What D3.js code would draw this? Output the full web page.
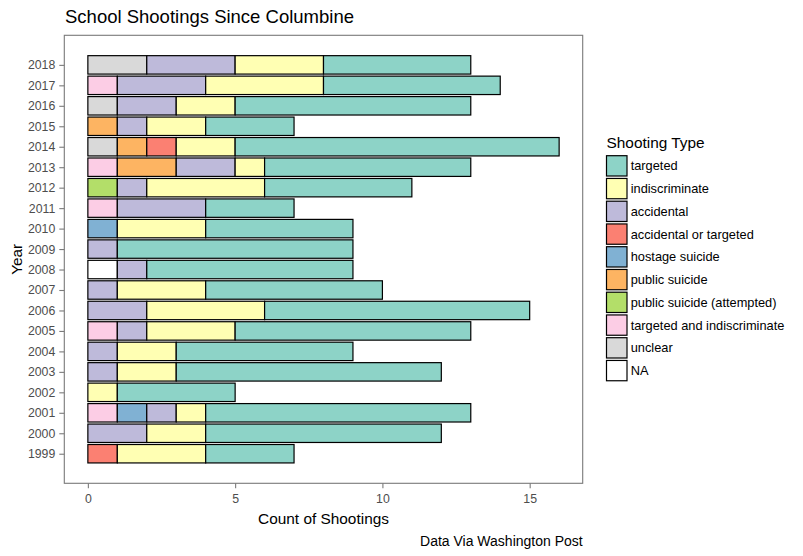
<!DOCTYPE html>
<html>
<head>
<meta charset="utf-8">
<script src="https://cdn.jsdelivr.net/npm/d3@7"></script>
<style>
  body { margin: 0; background: #fff; }
  text { font-family: "Liberation Sans", Arial, sans-serif; }
</style>
</head>
<body>
<svg id="chart" width="803" height="556"></svg>
<script>
// counts per year
var years = [1999, 2000, 2001, 2002, 2003, 2004, 2005, 2006, 2007, 2008,
             2009, 2010, 2011, 2012, 2013, 2014, 2015, 2016, 2017, 2018];

var targeted          = [3, 8, 9, 4, 9, 6, 8, 9, 6, 7, 8, 5, 3, 5, 7, 11, 3, 8, 6, 5];
var indiscriminate    = [3, 2, 1, 1, 2, 2, 3, 4, 3, 0, 0, 3, 0, 4, 1, 2, 2, 2, 4, 3];
var accidental        = [0, 2, 1, 0, 1, 1, 1, 2, 1, 1, 1, 0, 3, 1, 2, 0, 1, 2, 3, 3];
var accOrTargeted     = [1, 0, 0, 0, 0, 0, 0, 0, 0, 0, 0, 0, 0, 0, 0, 1, 0, 0, 0, 0];
var hostageSuicide    = [0, 0, 1, 0, 0, 0, 0, 0, 0, 0, 0, 1, 0, 0, 0, 0, 0, 0, 0, 0];
var publicSuicide     = [0, 0, 0, 0, 0, 0, 0, 0, 0, 0, 0, 0, 0, 0, 2, 1, 1, 0, 0, 0];
var publicSuicideAtt  = [0, 0, 0, 0, 0, 0, 0, 0, 0, 0, 0, 0, 0, 1, 0, 0, 0, 0, 0, 0];
var targetedAndIndisc = [0, 0, 1, 0, 0, 0, 1, 0, 0, 0, 0, 0, 1, 0, 1, 0, 0, 0, 1, 0];
var unclear           = [0, 0, 0, 0, 0, 0, 0, 0, 0, 0, 0, 0, 0, 0, 0, 1, 0, 1, 0, 2];
var naType            = [0, 0, 0, 0, 0, 0, 0, 0, 0, 1, 0, 0, 0, 0, 0, 0, 0, 0, 0, 0];

var types = ["targeted", "indiscriminate", "accidental", "accidental or targeted",
             "hostage suicide", "public suicide", "public suicide (attempted)",
             "targeted and indiscriminate", "unclear", "NA"];
var series = [targeted, indiscriminate, accidental, accOrTargeted, hostageSuicide,
              publicSuicide, publicSuicideAtt, targetedAndIndisc, unclear, naType];
var colors = ["#8DD3C7", "#FFFFB3", "#BEBADA", "#FB8072", "#80B1D3",
              "#FDB462", "#B3DE69", "#FCCDE5", "#D9D9D9", "#FFFFFF"];
var xTicks = [0, 5, 10, 15];

var svg = d3.select("#chart");

var panel = { left: 64.3, right: 582.7, top: 35.3, bottom: 483.3 };

// rows for d3.stack
var rows = years.map(function(yr, i) {
  var r = { year: yr };
  types.forEach(function(t, j) { r[t] = series[j][i]; });
  return r;
});

// ggplot stacks the last level at the baseline
var stackKeys = types.slice().reverse();
var stacked = d3.stack().keys(stackKeys)(rows);

var color = d3.scaleOrdinal().domain(types).range(colors);

var maxTotal = d3.max(stacked[stacked.length - 1], function(d) { return d[1]; });
var xPad = maxTotal * 0.05;
var x = d3.scaleLinear()
          .domain([0 - xPad, maxTotal + xPad])
          .range([panel.left, panel.right]);

var yLo = years[0] - 0.45, yHi = years[years.length - 1] + 0.45;
var yPad = (yHi - yLo) * 0.05;
var y = d3.scaleLinear()
          .domain([yLo - yPad, yHi + yPad])
          .range([panel.bottom, panel.top]);

// bars
var layers = svg.append("g").selectAll("g")
                .data(stacked)
                .enter()
                .append("g")
                .attr("fill", function(d) { return color(d.key); });

layers.selectAll("rect")
      .data(function(d) { return d.filter(function(s) { return s[1] - s[0] > 0; }); })
      .enter()
      .append("rect")
      .attr("x", function(d) { return x(d[0]); })
      .attr("width", function(d) { return x(d[1]) - x(d[0]); })
      .attr("y", function(d) { return y(d.data.year + 0.45); })
      .attr("height", function(d) { return y(d.data.year - 0.45) - y(d.data.year + 0.45); })
      .attr("stroke", "#000")
      .attr("stroke-width", 1.2);

// panel border
svg.append("rect")
   .attr("x", panel.left).attr("y", panel.top)
   .attr("width", panel.right - panel.left)
   .attr("height", panel.bottom - panel.top)
   .attr("fill", "none")
   .attr("stroke", "#7a7a7a")
   .attr("stroke-width", 1.1);

// axes
var yAxis = d3.axisLeft(y)
              .tickValues(years)
              .tickFormat(d3.format("d"))
              .tickSize(5)
              .tickPadding(4);

var xAxis = d3.axisBottom(x)
              .tickValues(xTicks)
              .tickSize(5)
              .tickPadding(6);

var gy = svg.append("g").attr("transform", "translate(" + panel.left + ",0)").call(yAxis);
var gx = svg.append("g").attr("transform", "translate(0," + panel.bottom + ")").call(xAxis);

[gx, gy].forEach(function(g) {
  g.select(".domain").remove();
  g.selectAll(".tick line").attr("stroke", "#7a7a7a").attr("stroke-width", 1.1);
  g.selectAll(".tick text")
   .attr("fill", "#4D4D4D")
   .style("font-size", "12.3px")
   .style("font-family", "'Liberation Sans', Arial, sans-serif");
});

// titles
svg.append("text")
   .attr("x", 65).attr("y", 23.3)
   .style("font-size", "18.5px")
   .attr("fill", "#000")
   .text("School Shootings Since Columbine");

svg.append("text")
   .attr("x", (panel.left + panel.right) / 2).attr("y", 524)
   .attr("text-anchor", "middle")
   .style("font-size", "15.4px")
   .text("Count of Shootings");

svg.append("text")
   .attr("transform", "translate(21.5," + (panel.top + panel.bottom) / 2 + ") rotate(-90)")
   .attr("text-anchor", "middle")
   .style("font-size", "15.4px")
   .text("Year");

svg.append("text")
   .attr("x", panel.right).attr("y", 546)
   .attr("text-anchor", "end")
   .style("font-size", "14px")
   .text("Data Via Washington Post");

// legend
var legend = svg.append("g").attr("transform", "translate(606.5,0)");

legend.append("text")
      .attr("x", 0).attr("y", 148.3)
      .style("font-size", "15.4px")
      .text("Shooting Type");

var keyStep = 22.75, keyTop = 155.7, keyW = 20.5, keyH = 20.3;

var items = legend.selectAll(".item")
                  .data(types)
                  .enter()
                  .append("g")
                  .attr("class", "item")
                  .attr("transform", function(d, i) { return "translate(0," + (keyTop + i * keyStep) + ")"; });

items.append("rect")
     .attr("width", keyW).attr("height", keyH)
     .attr("fill", function(d) { return color(d); })
     .attr("stroke", "#000")
     .attr("stroke-width", 1.2);

items.append("text")
     .attr("x", 24.2).attr("y", keyH / 2)
     .attr("dy", "0.35em")
     .style("font-size", "12.8px")
     .text(function(d) { return d; });
</script>
</body>
</html>
